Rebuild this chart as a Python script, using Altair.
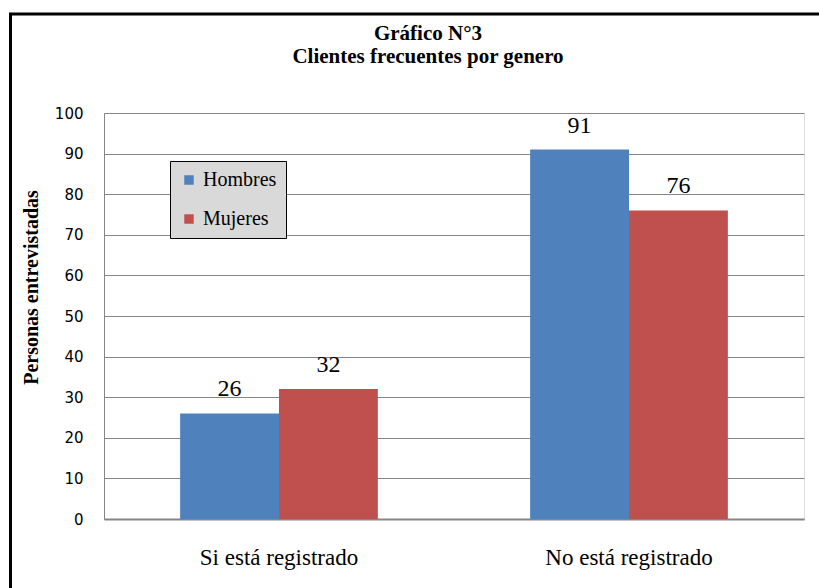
import altair as alt
import pandas as pd

# Survey results: frequent customers by gender and registration status
categorias = ["Si está registrado", "No está registrado"]
generos = ["Hombres", "Mujeres"]
hombres = [26, 91]
mujeres = [32, 76]
titulo = ["Gráfico N°3", "Clientes frecuentes por genero"]

filas = []
for i, cat in enumerate(categorias):
    filas.append({"categoria": cat, "genero": "Hombres", "valor": hombres[i]})
    filas.append({"categoria": cat, "genero": "Mujeres", "valor": mujeres[i]})
df = pd.DataFrame(filas)

SERIF = "'Times New Roman', 'Liberation Serif', Times, serif"
GRIS = "#868686"

x_enc = alt.X(
    "categoria:N",
    sort=categorias,
    title=None,
    scale=alt.Scale(paddingInner=0, paddingOuter=0),
    axis=alt.Axis(
        labelFont=SERIF,
        labelFontSize=23,
        labelColor="black",
        labelAngle=0,
        labelPadding=27,
        ticks=False,
        domainColor=GRIS,
        domainWidth=2,
        grid=False,
    ),
)
xoff_enc = alt.XOffset(
    "genero:N",
    sort=generos,
    scale=alt.Scale(paddingInner=0, paddingOuter=0.77),
)
y_enc = alt.Y(
    "valor:Q",
    scale=alt.Scale(domain=[0, 100], nice=False),
    axis=alt.Axis(
        values=list(range(0, 101, 10)),
        title="Personas entrevistadas",
        titleFont=SERIF,
        titleFontSize=20,
        titleFontWeight="bold",
        titleColor="black",
        titleAngle=-90,
        titleX=-73,
        titleY=174,
        titleAlign="center",
        titleBaseline="middle",
        labelFont="DejaVu Sans",
        labelFontSize=15,
        labelColor="black",
        labelPadding=21,
        ticks=False,
        domainColor=GRIS,
        domainWidth=1,
        gridColor=GRIS,
        gridWidth=1,
        gridOpacity=1,
    ),
)

color_enc = alt.Color(
    "genero:N",
    sort=generos,
    scale=alt.Scale(domain=generos, range=["#4F81BD", "#C0504D"]),
    legend=alt.Legend(
        title=None,
        orient="none",
        legendX=66,
        legendY=48,
        fillColor="#D9D9D9",
        strokeColor="black",
        padding=9,
        rowPadding=19,
        symbolType="square",
        symbolSize=90,
        symbolStrokeWidth=0,
        labelFont=SERIF,
        labelFontSize=20,
        labelColor="black",
        labelOffset=4,
    ),
)

# outer frame around the whole figure
marco = alt.Chart(pd.DataFrame({"a": [0]})).mark_rect(
    fill=None, stroke="black", strokeWidth=3
).encode(
    x=alt.value(-93.5),
    x2=alt.value(760),
    y=alt.value(-99),
    y2=alt.value(520),
)

# two-line heading above the plot
encabezado = alt.Chart(pd.DataFrame({"a": [0]})).mark_text(
    text=titulo,
    font=SERIF,
    fontSize=21,
    fontWeight="bold",
    color="black",
    baseline="alphabetic",
    align="center",
    lineHeight=23,
).encode(
    x=alt.value(324),
    y=alt.value(-73),
)

barras = alt.Chart(df).mark_bar().encode(
    x=x_enc, xOffset=xoff_enc, y=y_enc, color=color_enc
)

etiquetas = alt.Chart(df).mark_text(
    font=SERIF, fontSize=24, color="black", baseline="alphabetic", dy=-17
).encode(
    x=alt.X("categoria:N", sort=categorias),
    xOffset=alt.XOffset("genero:N", sort=generos),
    y="valor:Q",
    text="valor:Q",
)

chart = (
    alt.layer(marco, barras, etiquetas, encabezado)
    .properties(
        width=700,
        height=406,
        autosize=alt.AutoSizeParams(type="none"),
        padding={"left": 104, "top": 113, "right": 15, "bottom": 69},
    )
    .configure_view(strokeWidth=0)
    .configure(background="white")
)

chart.save("out.html", embed_options={"renderer": "svg", "actions": False})
